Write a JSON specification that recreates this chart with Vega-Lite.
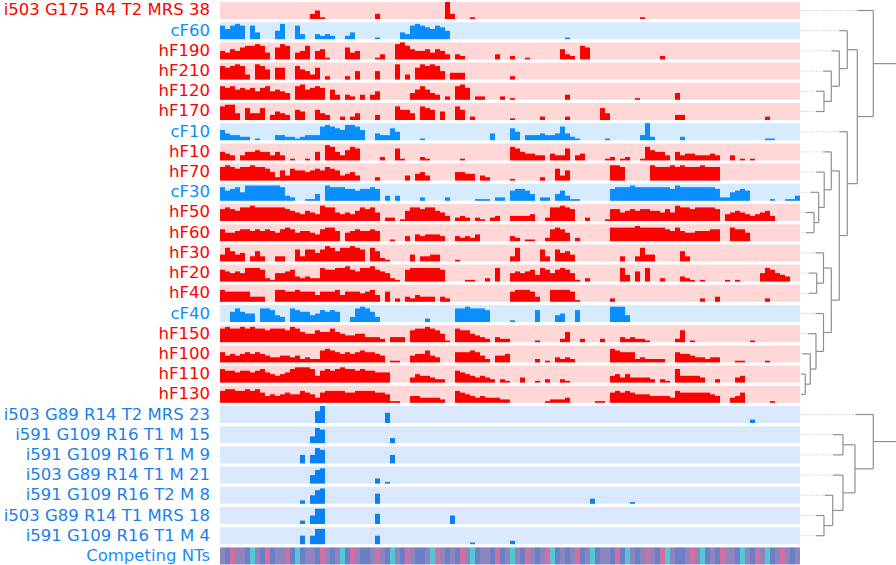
{
"$schema":"https://vega.github.io/schema/vega-lite/v6.json",
"padding":{"top":2,"left":0,"right":0,"bottom":0},
"config":{"view":{"stroke":null}},
"datasets":{
"tracks":[{"r":0,"t":"i503 G175 R4 T2 MRS 38","g":"h"},{"r":1,"t":"cF60","g":"c"},{"r":2,"t":"hF190","g":"h"},{"r":3,"t":"hF210","g":"h"},{"r":4,"t":"hF120","g":"h"},{"r":5,"t":"hF170","g":"h"},{"r":6,"t":"cF10","g":"c"},{"r":7,"t":"hF10","g":"h"},{"r":8,"t":"hF70","g":"h"},{"r":9,"t":"cF30","g":"c"},{"r":10,"t":"hF50","g":"h"},{"r":11,"t":"hF60","g":"h"},{"r":12,"t":"hF30","g":"h"},{"r":13,"t":"hF20","g":"h"},{"r":14,"t":"hF40","g":"h"},{"r":15,"t":"cF40","g":"c"},{"r":16,"t":"hF150","g":"h"},{"r":17,"t":"hF100","g":"h"},{"r":18,"t":"hF110","g":"h"},{"r":19,"t":"hF130","g":"h"},{"r":20,"t":"i503 G89 R14 T2 MRS 23","g":"i"},{"r":21,"t":"i591 G109 R16 T1 M 15","g":"i"},{"r":22,"t":"i591 G109 R16 T1 M 9","g":"i"},{"r":23,"t":"i503 G89 R14 T1 M 21","g":"i"},{"r":24,"t":"i591 G109 R16 T2 M 8","g":"i"},{"r":25,"t":"i503 G89 R14 T1 MRS 18","g":"i"},{"r":26,"t":"i591 G109 R16 T1 M 4","g":"i"},{"r":27,"t":"Competing NTs","g":"n"}],
"bars":[
{"r":0,"x":18,"v":3},{"r":0,"x":19,"v":5},{"r":0,"x":20,"v":1},{"r":0,"x":31,"v":3},{"r":0,"x":45,"v":10},{"r":0,"x":46,"v":3},{"r":0,"x":50,"v":1},{"r":0,"x":84,"v":1},
{"r":1,"x":0,"v":8},{"r":1,"x":1,"v":6},{"r":1,"x":2,"v":8},{"r":1,"x":3,"v":9},{"r":1,"x":4,"v":8},{"r":1,"x":6,"v":8},{"r":1,"x":7,"v":4},{"r":1,"x":11,"v":5},{"r":1,"x":12,"v":9},{"r":1,"x":15,"v":8},{"r":1,"x":16,"v":3},{"r":1,"x":19,"v":3},{"r":1,"x":20,"v":2},{"r":1,"x":21,"v":3},{"r":1,"x":22,"v":2},{"r":1,"x":25,"v":2},{"r":1,"x":26,"v":4},{"r":1,"x":31,"v":1},{"r":1,"x":36,"v":4},{"r":1,"x":37,"v":3},{"r":1,"x":38,"v":8},{"r":1,"x":39,"v":9},{"r":1,"x":40,"v":8},{"r":1,"x":41,"v":7},{"r":1,"x":42,"v":6},{"r":1,"x":43,"v":8},{"r":1,"x":44,"v":7},{"r":1,"x":45,"v":5},{"r":1,"x":69,"v":1},
{"r":2,"x":0,"v":5},{"r":2,"x":1,"v":4},{"r":2,"x":2,"v":6},{"r":2,"x":3,"v":5},{"r":2,"x":4,"v":7},{"r":2,"x":5,"v":8},{"r":2,"x":6,"v":8},{"r":2,"x":7,"v":9},{"r":2,"x":8,"v":8},{"r":2,"x":9,"v":4},{"r":2,"x":11,"v":7},{"r":2,"x":12,"v":9},{"r":2,"x":13,"v":8},{"r":2,"x":15,"v":4},{"r":2,"x":16,"v":5},{"r":2,"x":17,"v":8},{"r":2,"x":19,"v":5},{"r":2,"x":20,"v":6},{"r":2,"x":21,"v":1},{"r":2,"x":25,"v":7},{"r":2,"x":26,"v":4},{"r":2,"x":27,"v":5},{"r":2,"x":31,"v":1},{"r":2,"x":32,"v":3},{"r":2,"x":35,"v":9},{"r":2,"x":36,"v":10},{"r":2,"x":37,"v":8},{"r":2,"x":38,"v":6},{"r":2,"x":39,"v":5},{"r":2,"x":40,"v":5},{"r":2,"x":41,"v":6},{"r":2,"x":42,"v":4},{"r":2,"x":43,"v":6},{"r":2,"x":44,"v":5},{"r":2,"x":45,"v":3},{"r":2,"x":47,"v":3},{"r":2,"x":48,"v":2},{"r":2,"x":55,"v":3},{"r":2,"x":58,"v":2},{"r":2,"x":61,"v":1},{"r":2,"x":68,"v":6},{"r":2,"x":69,"v":3},{"r":2,"x":70,"v":2},{"r":2,"x":72,"v":8},{"r":2,"x":73,"v":7},{"r":2,"x":88,"v":2},
{"r":3,"x":0,"v":8},{"r":3,"x":1,"v":7},{"r":3,"x":2,"v":8},{"r":3,"x":3,"v":9},{"r":3,"x":4,"v":8},{"r":3,"x":5,"v":3},{"r":3,"x":7,"v":9},{"r":3,"x":8,"v":8},{"r":3,"x":9,"v":6},{"r":3,"x":11,"v":7},{"r":3,"x":12,"v":7},{"r":3,"x":15,"v":8},{"r":3,"x":16,"v":6},{"r":3,"x":17,"v":5},{"r":3,"x":18,"v":3},{"r":3,"x":19,"v":7},{"r":3,"x":21,"v":2},{"r":3,"x":25,"v":2},{"r":3,"x":27,"v":5},{"r":3,"x":31,"v":5},{"r":3,"x":35,"v":9},{"r":3,"x":37,"v":3},{"r":3,"x":39,"v":7},{"r":3,"x":40,"v":9},{"r":3,"x":41,"v":8},{"r":3,"x":42,"v":9},{"r":3,"x":43,"v":8},{"r":3,"x":44,"v":5},{"r":3,"x":46,"v":4},{"r":3,"x":47,"v":4},{"r":3,"x":48,"v":4},{"r":3,"x":58,"v":2},
{"r":4,"x":0,"v":8},{"r":4,"x":1,"v":7},{"r":4,"x":2,"v":8},{"r":4,"x":3,"v":6},{"r":4,"x":4,"v":7},{"r":4,"x":5,"v":6},{"r":4,"x":6,"v":7},{"r":4,"x":7,"v":5},{"r":4,"x":8,"v":7},{"r":4,"x":9,"v":8},{"r":4,"x":10,"v":5},{"r":4,"x":11,"v":6},{"r":4,"x":12,"v":5},{"r":4,"x":13,"v":4},{"r":4,"x":15,"v":8},{"r":4,"x":16,"v":9},{"r":4,"x":17,"v":6},{"r":4,"x":18,"v":7},{"r":4,"x":19,"v":8},{"r":4,"x":20,"v":7},{"r":4,"x":22,"v":6},{"r":4,"x":23,"v":3},{"r":4,"x":25,"v":3},{"r":4,"x":26,"v":2},{"r":4,"x":28,"v":3},{"r":4,"x":30,"v":3},{"r":4,"x":31,"v":5},{"r":4,"x":38,"v":4},{"r":4,"x":39,"v":6},{"r":4,"x":40,"v":8},{"r":4,"x":41,"v":6},{"r":4,"x":42,"v":4},{"r":4,"x":43,"v":3},{"r":4,"x":45,"v":2},{"r":4,"x":47,"v":8},{"r":4,"x":48,"v":9},{"r":4,"x":49,"v":7},{"r":4,"x":51,"v":2},{"r":4,"x":52,"v":2},{"r":4,"x":56,"v":2},{"r":4,"x":58,"v":1},{"r":4,"x":69,"v":3},{"r":4,"x":83,"v":1},{"r":4,"x":91,"v":4},
{"r":5,"x":0,"v":8},{"r":5,"x":1,"v":9},{"r":5,"x":2,"v":9},{"r":5,"x":3,"v":4},{"r":5,"x":5,"v":7},{"r":5,"x":6,"v":4},{"r":5,"x":7,"v":4},{"r":5,"x":8,"v":7},{"r":5,"x":10,"v":3},{"r":5,"x":11,"v":5},{"r":5,"x":12,"v":4},{"r":5,"x":13,"v":3},{"r":5,"x":15,"v":6},{"r":5,"x":16,"v":5},{"r":5,"x":19,"v":6},{"r":5,"x":20,"v":4},{"r":5,"x":21,"v":3},{"r":5,"x":24,"v":2},{"r":5,"x":26,"v":2},{"r":5,"x":27,"v":4},{"r":5,"x":31,"v":3},{"r":5,"x":35,"v":8},{"r":5,"x":36,"v":6},{"r":5,"x":37,"v":6},{"r":5,"x":38,"v":4},{"r":5,"x":40,"v":8},{"r":5,"x":41,"v":7},{"r":5,"x":42,"v":6},{"r":5,"x":44,"v":5},{"r":5,"x":47,"v":8},{"r":5,"x":48,"v":6},{"r":5,"x":50,"v":2},{"r":5,"x":58,"v":1},{"r":5,"x":64,"v":2},{"r":5,"x":69,"v":2},{"r":5,"x":76,"v":7},{"r":5,"x":77,"v":4},{"r":5,"x":91,"v":3},{"r":5,"x":92,"v":3},{"r":5,"x":109,"v":2},
{"r":6,"x":0,"v":6},{"r":6,"x":1,"v":4},{"r":6,"x":2,"v":3},{"r":6,"x":3,"v":3},{"r":6,"x":4,"v":2},{"r":6,"x":5,"v":2},{"r":6,"x":7,"v":1},{"r":6,"x":11,"v":3},{"r":6,"x":12,"v":3},{"r":6,"x":13,"v":2},{"r":6,"x":14,"v":2},{"r":6,"x":15,"v":1},{"r":6,"x":16,"v":2},{"r":6,"x":17,"v":3},{"r":6,"x":18,"v":3},{"r":6,"x":19,"v":3},{"r":6,"x":20,"v":8},{"r":6,"x":21,"v":9},{"r":6,"x":22,"v":8},{"r":6,"x":23,"v":7},{"r":6,"x":24,"v":6},{"r":6,"x":25,"v":9},{"r":6,"x":26,"v":9},{"r":6,"x":27,"v":8},{"r":6,"x":28,"v":6},{"r":6,"x":31,"v":4},{"r":6,"x":32,"v":3},{"r":6,"x":33,"v":3},{"r":6,"x":34,"v":7},{"r":6,"x":35,"v":5},{"r":6,"x":40,"v":1},{"r":6,"x":54,"v":4},{"r":6,"x":58,"v":7},{"r":6,"x":59,"v":5},{"r":6,"x":61,"v":3},{"r":6,"x":62,"v":3},{"r":6,"x":63,"v":3},{"r":6,"x":64,"v":4},{"r":6,"x":65,"v":3},{"r":6,"x":66,"v":3},{"r":6,"x":67,"v":4},{"r":6,"x":68,"v":8},{"r":6,"x":69,"v":4},{"r":6,"x":70,"v":2},{"r":6,"x":71,"v":1},{"r":6,"x":77,"v":1},{"r":6,"x":84,"v":3},{"r":6,"x":85,"v":10},{"r":6,"x":86,"v":2},{"r":6,"x":92,"v":2},{"r":6,"x":109,"v":1},{"r":6,"x":110,"v":1},
{"r":7,"x":0,"v":5},{"r":7,"x":1,"v":4},{"r":7,"x":2,"v":3},{"r":7,"x":4,"v":3},{"r":7,"x":5,"v":5},{"r":7,"x":6,"v":5},{"r":7,"x":7,"v":6},{"r":7,"x":8,"v":5},{"r":7,"x":9,"v":5},{"r":7,"x":10,"v":3},{"r":7,"x":11,"v":5},{"r":7,"x":12,"v":3},{"r":7,"x":14,"v":1},{"r":7,"x":17,"v":1},{"r":7,"x":19,"v":5},{"r":7,"x":21,"v":9},{"r":7,"x":22,"v":8},{"r":7,"x":23,"v":5},{"r":7,"x":24,"v":3},{"r":7,"x":25,"v":6},{"r":7,"x":26,"v":8},{"r":7,"x":27,"v":7},{"r":7,"x":32,"v":2},{"r":7,"x":35,"v":7},{"r":7,"x":36,"v":1},{"r":7,"x":40,"v":2},{"r":7,"x":41,"v":1},{"r":7,"x":48,"v":1},{"r":7,"x":58,"v":8},{"r":7,"x":59,"v":7},{"r":7,"x":60,"v":5},{"r":7,"x":61,"v":4},{"r":7,"x":62,"v":4},{"r":7,"x":63,"v":3},{"r":7,"x":64,"v":3},{"r":7,"x":66,"v":4},{"r":7,"x":67,"v":3},{"r":7,"x":68,"v":3},{"r":7,"x":69,"v":7},{"r":7,"x":71,"v":3},{"r":7,"x":72,"v":4},{"r":7,"x":77,"v":1},{"r":7,"x":78,"v":2},{"r":7,"x":80,"v":1},{"r":7,"x":81,"v":2},{"r":7,"x":84,"v":1},{"r":7,"x":85,"v":8},{"r":7,"x":86,"v":6},{"r":7,"x":87,"v":5},{"r":7,"x":88,"v":5},{"r":7,"x":89,"v":3},{"r":7,"x":91,"v":5},{"r":7,"x":92,"v":3},{"r":7,"x":93,"v":4},{"r":7,"x":94,"v":4},{"r":7,"x":95,"v":3},{"r":7,"x":96,"v":3},{"r":7,"x":97,"v":3},{"r":7,"x":98,"v":4},{"r":7,"x":99,"v":3},{"r":7,"x":102,"v":3},{"r":7,"x":104,"v":1},{"r":7,"x":106,"v":1},
{"r":8,"x":0,"v":8},{"r":8,"x":1,"v":9},{"r":8,"x":2,"v":8},{"r":8,"x":3,"v":7},{"r":8,"x":4,"v":8},{"r":8,"x":5,"v":8},{"r":8,"x":6,"v":9},{"r":8,"x":7,"v":8},{"r":8,"x":8,"v":8},{"r":8,"x":9,"v":7},{"r":8,"x":10,"v":5},{"r":8,"x":11,"v":2},{"r":8,"x":12,"v":6},{"r":8,"x":13,"v":3},{"r":8,"x":14,"v":7},{"r":8,"x":15,"v":6},{"r":8,"x":16,"v":6},{"r":8,"x":17,"v":5},{"r":8,"x":18,"v":6},{"r":8,"x":19,"v":7},{"r":8,"x":20,"v":6},{"r":8,"x":21,"v":8},{"r":8,"x":22,"v":7},{"r":8,"x":23,"v":6},{"r":8,"x":24,"v":3},{"r":8,"x":25,"v":4},{"r":8,"x":26,"v":5},{"r":8,"x":27,"v":3},{"r":8,"x":31,"v":2},{"r":8,"x":37,"v":3},{"r":8,"x":39,"v":4},{"r":8,"x":40,"v":5},{"r":8,"x":41,"v":3},{"r":8,"x":47,"v":5},{"r":8,"x":48,"v":5},{"r":8,"x":49,"v":4},{"r":8,"x":50,"v":4},{"r":8,"x":52,"v":3},{"r":8,"x":53,"v":2},{"r":8,"x":58,"v":1},{"r":8,"x":64,"v":2},{"r":8,"x":67,"v":7},{"r":8,"x":68,"v":3},{"r":8,"x":69,"v":6},{"r":8,"x":78,"v":9},{"r":8,"x":79,"v":9},{"r":8,"x":80,"v":8},{"r":8,"x":86,"v":9},{"r":8,"x":87,"v":8},{"r":8,"x":88,"v":8},{"r":8,"x":89,"v":8},{"r":8,"x":90,"v":9},{"r":8,"x":91,"v":8},{"r":8,"x":92,"v":9},{"r":8,"x":93,"v":8},{"r":8,"x":94,"v":8},{"r":8,"x":95,"v":8},{"r":8,"x":96,"v":9},{"r":8,"x":97,"v":8},{"r":8,"x":98,"v":8},{"r":8,"x":99,"v":8},
{"r":9,"x":0,"v":8},{"r":9,"x":1,"v":6},{"r":9,"x":2,"v":7},{"r":9,"x":3,"v":8},{"r":9,"x":4,"v":5},{"r":9,"x":5,"v":9},{"r":9,"x":6,"v":9},{"r":9,"x":7,"v":9},{"r":9,"x":8,"v":9},{"r":9,"x":9,"v":9},{"r":9,"x":10,"v":9},{"r":9,"x":11,"v":9},{"r":9,"x":12,"v":8},{"r":9,"x":13,"v":3},{"r":9,"x":14,"v":2},{"r":9,"x":17,"v":1},{"r":9,"x":18,"v":1},{"r":9,"x":19,"v":4},{"r":9,"x":21,"v":9},{"r":9,"x":22,"v":8},{"r":9,"x":23,"v":8},{"r":9,"x":24,"v":8},{"r":9,"x":25,"v":7},{"r":9,"x":26,"v":7},{"r":9,"x":27,"v":6},{"r":9,"x":28,"v":7},{"r":9,"x":29,"v":7},{"r":9,"x":30,"v":8},{"r":9,"x":31,"v":7},{"r":9,"x":33,"v":3},{"r":9,"x":35,"v":3},{"r":9,"x":40,"v":2},{"r":9,"x":45,"v":2},{"r":9,"x":51,"v":1},{"r":9,"x":52,"v":1},{"r":9,"x":53,"v":1},{"r":9,"x":55,"v":2},{"r":9,"x":56,"v":2},{"r":9,"x":58,"v":6},{"r":9,"x":59,"v":7},{"r":9,"x":60,"v":7},{"r":9,"x":61,"v":6},{"r":9,"x":62,"v":4},{"r":9,"x":64,"v":2},{"r":9,"x":65,"v":2},{"r":9,"x":67,"v":4},{"r":9,"x":68,"v":6},{"r":9,"x":69,"v":3},{"r":9,"x":70,"v":1},{"r":9,"x":71,"v":1},{"r":9,"x":78,"v":7},{"r":9,"x":79,"v":8},{"r":9,"x":80,"v":8},{"r":9,"x":81,"v":8},{"r":9,"x":82,"v":9},{"r":9,"x":83,"v":8},{"r":9,"x":84,"v":8},{"r":9,"x":85,"v":8},{"r":9,"x":86,"v":8},{"r":9,"x":87,"v":8},{"r":9,"x":88,"v":8},{"r":9,"x":89,"v":8},{"r":9,"x":90,"v":7},{"r":9,"x":91,"v":9},{"r":9,"x":92,"v":8},{"r":9,"x":93,"v":8},{"r":9,"x":94,"v":8},{"r":9,"x":95,"v":8},{"r":9,"x":96,"v":8},{"r":9,"x":97,"v":8},{"r":9,"x":98,"v":8},{"r":9,"x":99,"v":7},{"r":9,"x":100,"v":2},{"r":9,"x":101,"v":2},{"r":9,"x":102,"v":5},{"r":9,"x":103,"v":6},{"r":9,"x":104,"v":7},{"r":9,"x":105,"v":6},{"r":9,"x":110,"v":1},{"r":9,"x":113,"v":1},{"r":9,"x":114,"v":1},{"r":9,"x":115,"v":3},
{"r":10,"x":0,"v":7},{"r":10,"x":1,"v":8},{"r":10,"x":2,"v":7},{"r":10,"x":3,"v":6},{"r":10,"x":4,"v":8},{"r":10,"x":5,"v":8},{"r":10,"x":6,"v":9},{"r":10,"x":7,"v":8},{"r":10,"x":8,"v":8},{"r":10,"x":9,"v":8},{"r":10,"x":10,"v":8},{"r":10,"x":11,"v":8},{"r":10,"x":12,"v":8},{"r":10,"x":13,"v":7},{"r":10,"x":14,"v":6},{"r":10,"x":15,"v":5},{"r":10,"x":16,"v":4},{"r":10,"x":17,"v":6},{"r":10,"x":18,"v":5},{"r":10,"x":19,"v":4},{"r":10,"x":20,"v":9},{"r":10,"x":21,"v":8},{"r":10,"x":22,"v":8},{"r":10,"x":23,"v":5},{"r":10,"x":24,"v":4},{"r":10,"x":25,"v":5},{"r":10,"x":26,"v":4},{"r":10,"x":27,"v":6},{"r":10,"x":28,"v":8},{"r":10,"x":29,"v":7},{"r":10,"x":30,"v":8},{"r":10,"x":31,"v":5},{"r":10,"x":33,"v":2},{"r":10,"x":34,"v":2},{"r":10,"x":36,"v":1},{"r":10,"x":37,"v":6},{"r":10,"x":38,"v":8},{"r":10,"x":39,"v":8},{"r":10,"x":40,"v":7},{"r":10,"x":41,"v":8},{"r":10,"x":42,"v":8},{"r":10,"x":43,"v":6},{"r":10,"x":44,"v":5},{"r":10,"x":45,"v":3},{"r":10,"x":47,"v":2},{"r":10,"x":48,"v":3},{"r":10,"x":49,"v":2},{"r":10,"x":51,"v":2},{"r":10,"x":52,"v":1},{"r":10,"x":54,"v":2},{"r":10,"x":55,"v":3},{"r":10,"x":58,"v":3},{"r":10,"x":59,"v":3},{"r":10,"x":60,"v":3},{"r":10,"x":61,"v":3},{"r":10,"x":62,"v":4},{"r":10,"x":65,"v":2},{"r":10,"x":66,"v":8},{"r":10,"x":67,"v":8},{"r":10,"x":68,"v":9},{"r":10,"x":69,"v":8},{"r":10,"x":70,"v":7},{"r":10,"x":73,"v":2},{"r":10,"x":77,"v":1},{"r":10,"x":78,"v":7},{"r":10,"x":79,"v":7},{"r":10,"x":80,"v":5},{"r":10,"x":81,"v":6},{"r":10,"x":82,"v":7},{"r":10,"x":83,"v":6},{"r":10,"x":84,"v":7},{"r":10,"x":85,"v":7},{"r":10,"x":86,"v":6},{"r":10,"x":87,"v":6},{"r":10,"x":88,"v":5},{"r":10,"x":89,"v":7},{"r":10,"x":90,"v":5},{"r":10,"x":91,"v":9},{"r":10,"x":92,"v":8},{"r":10,"x":93,"v":8},{"r":10,"x":94,"v":7},{"r":10,"x":95,"v":8},{"r":10,"x":96,"v":8},{"r":10,"x":97,"v":8},{"r":10,"x":98,"v":8},{"r":10,"x":99,"v":7},{"r":10,"x":101,"v":4},{"r":10,"x":102,"v":5},{"r":10,"x":103,"v":6},{"r":10,"x":104,"v":5},{"r":10,"x":105,"v":4},{"r":10,"x":106,"v":3},{"r":10,"x":107,"v":4},{"r":10,"x":108,"v":5},{"r":10,"x":109,"v":6},{"r":10,"x":110,"v":3},
{"r":11,"x":0,"v":7},{"r":11,"x":1,"v":5},{"r":11,"x":2,"v":5},{"r":11,"x":3,"v":6},{"r":11,"x":4,"v":7},{"r":11,"x":5,"v":7},{"r":11,"x":6,"v":6},{"r":11,"x":7,"v":7},{"r":11,"x":8,"v":6},{"r":11,"x":9,"v":7},{"r":11,"x":10,"v":6},{"r":11,"x":11,"v":5},{"r":11,"x":12,"v":7},{"r":11,"x":13,"v":8},{"r":11,"x":14,"v":7},{"r":11,"x":15,"v":5},{"r":11,"x":16,"v":6},{"r":11,"x":17,"v":6},{"r":11,"x":18,"v":5},{"r":11,"x":19,"v":4},{"r":11,"x":20,"v":7},{"r":11,"x":21,"v":8},{"r":11,"x":22,"v":8},{"r":11,"x":23,"v":6},{"r":11,"x":25,"v":5},{"r":11,"x":26,"v":6},{"r":11,"x":27,"v":7},{"r":11,"x":28,"v":6},{"r":11,"x":29,"v":6},{"r":11,"x":30,"v":7},{"r":11,"x":31,"v":6},{"r":11,"x":34,"v":1},{"r":11,"x":37,"v":3},{"r":11,"x":39,"v":4},{"r":11,"x":40,"v":3},{"r":11,"x":41,"v":4},{"r":11,"x":42,"v":4},{"r":11,"x":43,"v":4},{"r":11,"x":44,"v":3},{"r":11,"x":47,"v":3},{"r":11,"x":48,"v":2},{"r":11,"x":49,"v":3},{"r":11,"x":50,"v":2},{"r":11,"x":51,"v":4},{"r":11,"x":58,"v":3},{"r":11,"x":59,"v":2},{"r":11,"x":61,"v":1},{"r":11,"x":62,"v":1},{"r":11,"x":65,"v":2},{"r":11,"x":66,"v":7},{"r":11,"x":67,"v":8},{"r":11,"x":68,"v":7},{"r":11,"x":69,"v":5},{"r":11,"x":71,"v":2},{"r":11,"x":78,"v":8},{"r":11,"x":79,"v":8},{"r":11,"x":80,"v":8},{"r":11,"x":81,"v":8},{"r":11,"x":82,"v":8},{"r":11,"x":83,"v":9},{"r":11,"x":84,"v":8},{"r":11,"x":85,"v":8},{"r":11,"x":86,"v":8},{"r":11,"x":87,"v":8},{"r":11,"x":88,"v":8},{"r":11,"x":89,"v":7},{"r":11,"x":90,"v":6},{"r":11,"x":91,"v":8},{"r":11,"x":92,"v":6},{"r":11,"x":93,"v":5},{"r":11,"x":94,"v":5},{"r":11,"x":95,"v":6},{"r":11,"x":96,"v":6},{"r":11,"x":97,"v":6},{"r":11,"x":98,"v":7},{"r":11,"x":99,"v":7},{"r":11,"x":102,"v":8},{"r":11,"x":103,"v":7},{"r":11,"x":104,"v":7},{"r":11,"x":105,"v":5},
{"r":12,"x":0,"v":4},{"r":12,"x":1,"v":8},{"r":12,"x":2,"v":6},{"r":12,"x":3,"v":4},{"r":12,"x":4,"v":5},{"r":12,"x":6,"v":3},{"r":12,"x":7,"v":6},{"r":12,"x":8,"v":3},{"r":12,"x":11,"v":3},{"r":12,"x":12,"v":3},{"r":12,"x":15,"v":7},{"r":12,"x":16,"v":3},{"r":12,"x":17,"v":7},{"r":12,"x":18,"v":7},{"r":12,"x":19,"v":5},{"r":12,"x":20,"v":7},{"r":12,"x":21,"v":9},{"r":12,"x":22,"v":8},{"r":12,"x":23,"v":6},{"r":12,"x":24,"v":8},{"r":12,"x":25,"v":8},{"r":12,"x":26,"v":9},{"r":12,"x":27,"v":8},{"r":12,"x":28,"v":7},{"r":12,"x":30,"v":8},{"r":12,"x":31,"v":6},{"r":12,"x":32,"v":2},{"r":12,"x":33,"v":1},{"r":12,"x":38,"v":4},{"r":12,"x":40,"v":3},{"r":12,"x":41,"v":3},{"r":12,"x":42,"v":4},{"r":12,"x":43,"v":4},{"r":12,"x":47,"v":1},{"r":12,"x":58,"v":3},{"r":12,"x":59,"v":8},{"r":12,"x":64,"v":7},{"r":12,"x":65,"v":3},{"r":12,"x":67,"v":7},{"r":12,"x":68,"v":5},{"r":12,"x":69,"v":6},{"r":12,"x":70,"v":4},{"r":12,"x":80,"v":3},{"r":12,"x":83,"v":3},{"r":12,"x":84,"v":8},{"r":12,"x":85,"v":4},{"r":12,"x":86,"v":4},{"r":12,"x":92,"v":6},{"r":12,"x":93,"v":3},
{"r":13,"x":0,"v":7},{"r":13,"x":1,"v":6},{"r":13,"x":2,"v":5},{"r":13,"x":3,"v":6},{"r":13,"x":4,"v":5},{"r":13,"x":5,"v":8},{"r":13,"x":6,"v":8},{"r":13,"x":7,"v":8},{"r":13,"x":8,"v":7},{"r":13,"x":9,"v":2},{"r":13,"x":10,"v":1},{"r":13,"x":11,"v":5},{"r":13,"x":12,"v":5},{"r":13,"x":13,"v":6},{"r":13,"x":14,"v":7},{"r":13,"x":15,"v":3},{"r":13,"x":16,"v":2},{"r":13,"x":17,"v":3},{"r":13,"x":18,"v":2},{"r":13,"x":19,"v":2},{"r":13,"x":20,"v":8},{"r":13,"x":21,"v":7},{"r":13,"x":22,"v":7},{"r":13,"x":23,"v":8},{"r":13,"x":24,"v":8},{"r":13,"x":25,"v":9},{"r":13,"x":26,"v":7},{"r":13,"x":27,"v":6},{"r":13,"x":28,"v":8},{"r":13,"x":29,"v":8},{"r":13,"x":30,"v":9},{"r":13,"x":31,"v":7},{"r":13,"x":32,"v":6},{"r":13,"x":33,"v":5},{"r":13,"x":34,"v":2},{"r":13,"x":35,"v":1},{"r":13,"x":37,"v":7},{"r":13,"x":38,"v":8},{"r":13,"x":39,"v":8},{"r":13,"x":40,"v":8},{"r":13,"x":41,"v":8},{"r":13,"x":42,"v":8},{"r":13,"x":43,"v":8},{"r":13,"x":44,"v":7},{"r":13,"x":49,"v":1},{"r":13,"x":50,"v":1},{"r":13,"x":53,"v":2},{"r":13,"x":55,"v":8},{"r":13,"x":58,"v":5},{"r":13,"x":59,"v":6},{"r":13,"x":60,"v":5},{"r":13,"x":61,"v":6},{"r":13,"x":62,"v":7},{"r":13,"x":63,"v":4},{"r":13,"x":64,"v":8},{"r":13,"x":65,"v":7},{"r":13,"x":66,"v":5},{"r":13,"x":67,"v":7},{"r":13,"x":68,"v":8},{"r":13,"x":69,"v":7},{"r":13,"x":70,"v":5},{"r":13,"x":71,"v":1},{"r":13,"x":73,"v":2},{"r":13,"x":80,"v":8},{"r":13,"x":81,"v":4},{"r":13,"x":83,"v":6},{"r":13,"x":85,"v":8},{"r":13,"x":88,"v":2},{"r":13,"x":92,"v":3},{"r":13,"x":93,"v":2},{"r":13,"x":94,"v":1},{"r":13,"x":96,"v":1},{"r":13,"x":101,"v":1},{"r":13,"x":103,"v":1},{"r":13,"x":108,"v":5},{"r":13,"x":109,"v":8},{"r":13,"x":110,"v":7},{"r":13,"x":111,"v":5},{"r":13,"x":112,"v":4},{"r":13,"x":113,"v":3},
{"r":14,"x":0,"v":7},{"r":14,"x":1,"v":6},{"r":14,"x":2,"v":6},{"r":14,"x":3,"v":6},{"r":14,"x":4,"v":6},{"r":14,"x":5,"v":6},{"r":14,"x":6,"v":3},{"r":14,"x":7,"v":3},{"r":14,"x":8,"v":3},{"r":14,"x":11,"v":7},{"r":14,"x":12,"v":7},{"r":14,"x":13,"v":6},{"r":14,"x":14,"v":6},{"r":14,"x":15,"v":7},{"r":14,"x":16,"v":6},{"r":14,"x":17,"v":6},{"r":14,"x":18,"v":6},{"r":14,"x":19,"v":4},{"r":14,"x":20,"v":6},{"r":14,"x":21,"v":6},{"r":14,"x":22,"v":6},{"r":14,"x":23,"v":7},{"r":14,"x":24,"v":4},{"r":14,"x":25,"v":6},{"r":14,"x":26,"v":6},{"r":14,"x":27,"v":6},{"r":14,"x":28,"v":5},{"r":14,"x":29,"v":6},{"r":14,"x":30,"v":7},{"r":14,"x":31,"v":4},{"r":14,"x":33,"v":6},{"r":14,"x":35,"v":2},{"r":14,"x":37,"v":3},{"r":14,"x":38,"v":2},{"r":14,"x":39,"v":4},{"r":14,"x":40,"v":3},{"r":14,"x":41,"v":3},{"r":14,"x":42,"v":3},{"r":14,"x":44,"v":3},{"r":14,"x":45,"v":2},{"r":14,"x":58,"v":6},{"r":14,"x":59,"v":7},{"r":14,"x":60,"v":7},{"r":14,"x":61,"v":7},{"r":14,"x":62,"v":6},{"r":14,"x":63,"v":3},{"r":14,"x":66,"v":7},{"r":14,"x":67,"v":7},{"r":14,"x":68,"v":7},{"r":14,"x":69,"v":7},{"r":14,"x":70,"v":6},{"r":14,"x":71,"v":1},{"r":14,"x":78,"v":2},{"r":14,"x":96,"v":2},{"r":14,"x":99,"v":3},{"r":14,"x":109,"v":2},
{"r":15,"x":2,"v":6},{"r":15,"x":3,"v":8},{"r":15,"x":4,"v":6},{"r":15,"x":5,"v":5},{"r":15,"x":6,"v":5},{"r":15,"x":8,"v":8},{"r":15,"x":9,"v":8},{"r":15,"x":10,"v":7},{"r":15,"x":11,"v":4},{"r":15,"x":12,"v":3},{"r":15,"x":14,"v":8},{"r":15,"x":15,"v":7},{"r":15,"x":16,"v":6},{"r":15,"x":17,"v":6},{"r":15,"x":18,"v":4},{"r":15,"x":19,"v":5},{"r":15,"x":20,"v":7},{"r":15,"x":21,"v":6},{"r":15,"x":22,"v":7},{"r":15,"x":23,"v":6},{"r":15,"x":26,"v":3},{"r":15,"x":27,"v":8},{"r":15,"x":28,"v":9},{"r":15,"x":29,"v":8},{"r":15,"x":30,"v":6},{"r":15,"x":31,"v":3},{"r":15,"x":41,"v":2},{"r":15,"x":47,"v":8},{"r":15,"x":48,"v":8},{"r":15,"x":49,"v":9},{"r":15,"x":50,"v":8},{"r":15,"x":51,"v":8},{"r":15,"x":52,"v":8},{"r":15,"x":53,"v":7},{"r":15,"x":58,"v":1},{"r":15,"x":63,"v":7},{"r":15,"x":67,"v":4},{"r":15,"x":68,"v":5},{"r":15,"x":71,"v":7},{"r":15,"x":78,"v":9},{"r":15,"x":79,"v":9},{"r":15,"x":80,"v":9},{"r":15,"x":81,"v":4},
{"r":16,"x":0,"v":8},{"r":16,"x":1,"v":9},{"r":16,"x":2,"v":8},{"r":16,"x":3,"v":8},{"r":16,"x":4,"v":9},{"r":16,"x":5,"v":8},{"r":16,"x":6,"v":9},{"r":16,"x":7,"v":8},{"r":16,"x":8,"v":8},{"r":16,"x":9,"v":7},{"r":16,"x":10,"v":8},{"r":16,"x":11,"v":8},{"r":16,"x":12,"v":8},{"r":16,"x":13,"v":7},{"r":16,"x":14,"v":9},{"r":16,"x":15,"v":8},{"r":16,"x":16,"v":6},{"r":16,"x":17,"v":5},{"r":16,"x":18,"v":5},{"r":16,"x":19,"v":7},{"r":16,"x":20,"v":6},{"r":16,"x":21,"v":6},{"r":16,"x":22,"v":8},{"r":16,"x":23,"v":6},{"r":16,"x":24,"v":5},{"r":16,"x":25,"v":4},{"r":16,"x":26,"v":4},{"r":16,"x":27,"v":5},{"r":16,"x":28,"v":5},{"r":16,"x":29,"v":3},{"r":16,"x":30,"v":3},{"r":16,"x":31,"v":3},{"r":16,"x":32,"v":2},{"r":16,"x":34,"v":3},{"r":16,"x":35,"v":3},{"r":16,"x":36,"v":3},{"r":16,"x":38,"v":7},{"r":16,"x":39,"v":8},{"r":16,"x":40,"v":8},{"r":16,"x":41,"v":9},{"r":16,"x":42,"v":8},{"r":16,"x":43,"v":7},{"r":16,"x":44,"v":5},{"r":16,"x":45,"v":1},{"r":16,"x":47,"v":8},{"r":16,"x":48,"v":7},{"r":16,"x":49,"v":7},{"r":16,"x":50,"v":5},{"r":16,"x":51,"v":4},{"r":16,"x":52,"v":3},{"r":16,"x":53,"v":2},{"r":16,"x":55,"v":3},{"r":16,"x":56,"v":2},{"r":16,"x":57,"v":2},{"r":16,"x":63,"v":1},{"r":16,"x":68,"v":2},{"r":16,"x":69,"v":6},{"r":16,"x":72,"v":2},{"r":16,"x":76,"v":2},{"r":16,"x":80,"v":3},{"r":16,"x":81,"v":2},{"r":16,"x":82,"v":3},{"r":16,"x":83,"v":2},{"r":16,"x":84,"v":2},{"r":16,"x":85,"v":1},{"r":16,"x":91,"v":2},{"r":16,"x":92,"v":7},{"r":16,"x":94,"v":1},{"r":16,"x":106,"v":1},
{"r":17,"x":0,"v":6},{"r":17,"x":1,"v":4},{"r":17,"x":2,"v":5},{"r":17,"x":3,"v":4},{"r":17,"x":4,"v":5},{"r":17,"x":5,"v":6},{"r":17,"x":6,"v":5},{"r":17,"x":7,"v":6},{"r":17,"x":8,"v":5},{"r":17,"x":9,"v":4},{"r":17,"x":10,"v":3},{"r":17,"x":11,"v":3},{"r":17,"x":12,"v":4},{"r":17,"x":13,"v":4},{"r":17,"x":14,"v":3},{"r":17,"x":15,"v":4},{"r":17,"x":16,"v":2},{"r":17,"x":17,"v":3},{"r":17,"x":18,"v":2},{"r":17,"x":19,"v":2},{"r":17,"x":20,"v":7},{"r":17,"x":21,"v":8},{"r":17,"x":22,"v":7},{"r":17,"x":23,"v":6},{"r":17,"x":24,"v":5},{"r":17,"x":25,"v":6},{"r":17,"x":26,"v":5},{"r":17,"x":27,"v":6},{"r":17,"x":28,"v":7},{"r":17,"x":29,"v":6},{"r":17,"x":30,"v":6},{"r":17,"x":31,"v":5},{"r":17,"x":32,"v":4},{"r":17,"x":34,"v":1},{"r":17,"x":35,"v":1},{"r":17,"x":38,"v":4},{"r":17,"x":39,"v":5},{"r":17,"x":40,"v":5},{"r":17,"x":41,"v":7},{"r":17,"x":42,"v":4},{"r":17,"x":43,"v":3},{"r":17,"x":47,"v":6},{"r":17,"x":48,"v":6},{"r":17,"x":49,"v":6},{"r":17,"x":50,"v":7},{"r":17,"x":51,"v":6},{"r":17,"x":52,"v":4},{"r":17,"x":53,"v":2},{"r":17,"x":55,"v":4},{"r":17,"x":56,"v":4},{"r":17,"x":57,"v":5},{"r":17,"x":63,"v":2},{"r":17,"x":65,"v":1},{"r":17,"x":67,"v":3},{"r":17,"x":68,"v":2},{"r":17,"x":69,"v":3},{"r":17,"x":70,"v":2},{"r":17,"x":78,"v":8},{"r":17,"x":79,"v":7},{"r":17,"x":80,"v":6},{"r":17,"x":81,"v":6},{"r":17,"x":82,"v":6},{"r":17,"x":83,"v":2},{"r":17,"x":84,"v":3},{"r":17,"x":85,"v":2},{"r":17,"x":86,"v":2},{"r":17,"x":87,"v":2},{"r":17,"x":88,"v":2},{"r":17,"x":91,"v":6},{"r":17,"x":92,"v":5},{"r":17,"x":93,"v":5},{"r":17,"x":94,"v":4},{"r":17,"x":95,"v":3},{"r":17,"x":96,"v":3},{"r":17,"x":97,"v":2},{"r":17,"x":98,"v":3},{"r":17,"x":99,"v":3},{"r":17,"x":103,"v":1},{"r":17,"x":104,"v":1},{"r":17,"x":109,"v":1},
{"r":18,"x":0,"v":8},{"r":18,"x":1,"v":7},{"r":18,"x":2,"v":7},{"r":18,"x":3,"v":6},{"r":18,"x":4,"v":7},{"r":18,"x":5,"v":7},{"r":18,"x":6,"v":6},{"r":18,"x":7,"v":7},{"r":18,"x":8,"v":8},{"r":18,"x":9,"v":6},{"r":18,"x":10,"v":5},{"r":18,"x":11,"v":4},{"r":18,"x":12,"v":5},{"r":18,"x":13,"v":6},{"r":18,"x":14,"v":8},{"r":18,"x":15,"v":9},{"r":18,"x":16,"v":9},{"r":18,"x":17,"v":9},{"r":18,"x":18,"v":8},{"r":18,"x":19,"v":4},{"r":18,"x":20,"v":7},{"r":18,"x":21,"v":8},{"r":18,"x":22,"v":7},{"r":18,"x":23,"v":8},{"r":18,"x":24,"v":9},{"r":18,"x":25,"v":8},{"r":18,"x":26,"v":8},{"r":18,"x":27,"v":7},{"r":18,"x":28,"v":8},{"r":18,"x":29,"v":7},{"r":18,"x":30,"v":7},{"r":18,"x":31,"v":6},{"r":18,"x":32,"v":6},{"r":18,"x":33,"v":6},{"r":18,"x":38,"v":3},{"r":18,"x":39,"v":5},{"r":18,"x":40,"v":4},{"r":18,"x":41,"v":4},{"r":18,"x":42,"v":3},{"r":18,"x":43,"v":2},{"r":18,"x":44,"v":2},{"r":18,"x":47,"v":7},{"r":18,"x":48,"v":6},{"r":18,"x":49,"v":5},{"r":18,"x":50,"v":4},{"r":18,"x":51,"v":3},{"r":18,"x":52,"v":4},{"r":18,"x":53,"v":3},{"r":18,"x":54,"v":2},{"r":18,"x":56,"v":2},{"r":18,"x":57,"v":1},{"r":18,"x":60,"v":3},{"r":18,"x":63,"v":1},{"r":18,"x":65,"v":2},{"r":18,"x":68,"v":2},{"r":18,"x":69,"v":1},{"r":18,"x":78,"v":4},{"r":18,"x":79,"v":5},{"r":18,"x":80,"v":3},{"r":18,"x":81,"v":5},{"r":18,"x":82,"v":3},{"r":18,"x":83,"v":3},{"r":18,"x":84,"v":3},{"r":18,"x":85,"v":3},{"r":18,"x":86,"v":2},{"r":18,"x":88,"v":2},{"r":18,"x":89,"v":1},{"r":18,"x":91,"v":8},{"r":18,"x":92,"v":4},{"r":18,"x":93,"v":4},{"r":18,"x":94,"v":4},{"r":18,"x":95,"v":4},{"r":18,"x":96,"v":3},{"r":18,"x":99,"v":2},{"r":18,"x":103,"v":3},{"r":18,"x":104,"v":4},
{"r":19,"x":0,"v":7},{"r":19,"x":1,"v":8},{"r":19,"x":2,"v":8},{"r":19,"x":3,"v":7},{"r":19,"x":4,"v":7},{"r":19,"x":5,"v":8},{"r":19,"x":6,"v":7},{"r":19,"x":7,"v":8},{"r":19,"x":8,"v":6},{"r":19,"x":9,"v":4},{"r":19,"x":10,"v":5},{"r":19,"x":11,"v":4},{"r":19,"x":12,"v":5},{"r":19,"x":13,"v":6},{"r":19,"x":14,"v":5},{"r":19,"x":15,"v":5},{"r":19,"x":16,"v":7},{"r":19,"x":17,"v":6},{"r":19,"x":18,"v":5},{"r":19,"x":19,"v":3},{"r":19,"x":20,"v":6},{"r":19,"x":21,"v":7},{"r":19,"x":22,"v":7},{"r":19,"x":23,"v":7},{"r":19,"x":24,"v":7},{"r":19,"x":25,"v":6},{"r":19,"x":26,"v":6},{"r":19,"x":27,"v":7},{"r":19,"x":28,"v":7},{"r":19,"x":29,"v":7},{"r":19,"x":30,"v":7},{"r":19,"x":31,"v":6},{"r":19,"x":32,"v":6},{"r":19,"x":33,"v":5},{"r":19,"x":34,"v":1},{"r":19,"x":35,"v":1},{"r":19,"x":38,"v":4},{"r":19,"x":39,"v":4},{"r":19,"x":40,"v":3},{"r":19,"x":41,"v":3},{"r":19,"x":42,"v":3},{"r":19,"x":43,"v":3},{"r":19,"x":44,"v":2},{"r":19,"x":47,"v":7},{"r":19,"x":48,"v":6},{"r":19,"x":49,"v":5},{"r":19,"x":50,"v":4},{"r":19,"x":51,"v":3},{"r":19,"x":52,"v":4},{"r":19,"x":53,"v":3},{"r":19,"x":54,"v":3},{"r":19,"x":55,"v":3},{"r":19,"x":56,"v":2},{"r":19,"x":57,"v":2},{"r":19,"x":65,"v":1},{"r":19,"x":66,"v":2},{"r":19,"x":67,"v":2},{"r":19,"x":68,"v":2},{"r":19,"x":69,"v":3},{"r":19,"x":75,"v":1},{"r":19,"x":76,"v":1},{"r":19,"x":78,"v":6},{"r":19,"x":79,"v":7},{"r":19,"x":80,"v":6},{"r":19,"x":81,"v":7},{"r":19,"x":82,"v":6},{"r":19,"x":83,"v":5},{"r":19,"x":84,"v":5},{"r":19,"x":85,"v":5},{"r":19,"x":86,"v":4},{"r":19,"x":87,"v":4},{"r":19,"x":88,"v":4},{"r":19,"x":89,"v":4},{"r":19,"x":90,"v":3},{"r":19,"x":91,"v":7},{"r":19,"x":92,"v":6},{"r":19,"x":93,"v":6},{"r":19,"x":94,"v":6},{"r":19,"x":95,"v":6},{"r":19,"x":96,"v":6},{"r":19,"x":97,"v":6},{"r":19,"x":98,"v":5},{"r":19,"x":99,"v":4},{"r":19,"x":102,"v":3},{"r":19,"x":103,"v":4},{"r":19,"x":104,"v":6},{"r":19,"x":110,"v":1},
{"r":20,"x":19,"v":7},{"r":20,"x":20,"v":10},{"r":20,"x":33,"v":6},{"r":20,"x":106,"v":2},
{"r":21,"x":18,"v":4},{"r":21,"x":19,"v":9},{"r":21,"x":20,"v":8},{"r":21,"x":34,"v":3},
{"r":22,"x":16,"v":5},{"r":22,"x":18,"v":5},{"r":22,"x":19,"v":9},{"r":22,"x":20,"v":8},{"r":22,"x":34,"v":5},
{"r":23,"x":18,"v":5},{"r":23,"x":19,"v":8},{"r":23,"x":20,"v":9},{"r":23,"x":31,"v":3},{"r":23,"x":33,"v":1},
{"r":24,"x":16,"v":2},{"r":24,"x":18,"v":5},{"r":24,"x":19,"v":8},{"r":24,"x":20,"v":9},{"r":24,"x":31,"v":6},{"r":24,"x":74,"v":3},{"r":24,"x":82,"v":1},
{"r":25,"x":16,"v":2},{"r":25,"x":18,"v":5},{"r":25,"x":19,"v":9},{"r":25,"x":20,"v":9},{"r":25,"x":31,"v":6},{"r":25,"x":46,"v":5},
{"r":26,"x":16,"v":5},{"r":26,"x":18,"v":5},{"r":26,"x":19,"v":9},{"r":26,"x":20,"v":9},{"r":26,"x":31,"v":5},{"r":26,"x":50,"v":1},{"r":26,"x":58,"v":2},
{"r":27,"x":0,"k":"G"},{"r":27,"x":1,"k":"T"},{"r":27,"x":2,"k":"A"},{"r":27,"x":3,"k":"G"},{"r":27,"x":4,"k":"G"},{"r":27,"x":5,"k":"T"},{"r":27,"x":6,"k":"C"},{"r":27,"x":7,"k":"G"},{"r":27,"x":8,"k":"T"},{"r":27,"x":9,"k":"A"},
{"r":27,"x":10,"k":"T"},{"r":27,"x":11,"k":"G"},{"r":27,"x":12,"k":"G"},{"r":27,"x":13,"k":"A"},{"r":27,"x":14,"k":"T"},{"r":27,"x":15,"k":"C"},{"r":27,"x":16,"k":"T"},{"r":27,"x":17,"k":"G"},{"r":27,"x":18,"k":"G"},{"r":27,"x":19,"k":"T"},
{"r":27,"x":20,"k":"A"},{"r":27,"x":21,"k":"G"},{"r":27,"x":22,"k":"T"},{"r":27,"x":23,"k":"G"},{"r":27,"x":24,"k":"C"},{"r":27,"x":25,"k":"T"},{"r":27,"x":26,"k":"A"},{"r":27,"x":27,"k":"G"},{"r":27,"x":28,"k":"T"},{"r":27,"x":29,"k":"T"},
{"r":27,"x":30,"k":"G"},{"r":27,"x":31,"k":"A"},{"r":27,"x":32,"k":"G"},{"r":27,"x":33,"k":"T"},{"r":27,"x":34,"k":"C"},{"r":27,"x":35,"k":"G"},{"r":27,"x":36,"k":"T"},{"r":27,"x":37,"k":"A"},{"r":27,"x":38,"k":"G"},{"r":27,"x":39,"k":"T"},
{"r":27,"x":40,"k":"T"},{"r":27,"x":41,"k":"G"},{"r":27,"x":42,"k":"C"},{"r":27,"x":43,"k":"A"},{"r":27,"x":44,"k":"G"},{"r":27,"x":45,"k":"T"},{"r":27,"x":46,"k":"G"},{"r":27,"x":47,"k":"T"},{"r":27,"x":48,"k":"A"},{"r":27,"x":49,"k":"G"},
{"r":27,"x":50,"k":"C"},{"r":27,"x":51,"k":"T"},{"r":27,"x":52,"k":"G"},{"r":27,"x":53,"k":"G"},{"r":27,"x":54,"k":"T"},{"r":27,"x":55,"k":"A"},{"r":27,"x":56,"k":"T"},{"r":27,"x":57,"k":"G"},{"r":27,"x":58,"k":"C"},{"r":27,"x":59,"k":"G"},
{"r":27,"x":60,"k":"T"},{"r":27,"x":61,"k":"A"},{"r":27,"x":62,"k":"G"},{"r":27,"x":63,"k":"T"},{"r":27,"x":64,"k":"G"},{"r":27,"x":65,"k":"A"},{"r":27,"x":66,"k":"C"},{"r":27,"x":67,"k":"T"},{"r":27,"x":68,"k":"G"},{"r":27,"x":69,"k":"T"},
{"r":27,"x":70,"k":"G"},{"r":27,"x":71,"k":"A"},{"r":27,"x":72,"k":"T"},{"r":27,"x":73,"k":"G"},{"r":27,"x":74,"k":"C"},{"r":27,"x":75,"k":"T"},{"r":27,"x":76,"k":"G"},{"r":27,"x":77,"k":"G"},{"r":27,"x":78,"k":"T"},{"r":27,"x":79,"k":"A"},
{"r":27,"x":80,"k":"T"},{"r":27,"x":81,"k":"C"},{"r":27,"x":82,"k":"G"},{"r":27,"x":83,"k":"T"},{"r":27,"x":84,"k":"G"},{"r":27,"x":85,"k":"A"},{"r":27,"x":86,"k":"G"},{"r":27,"x":87,"k":"T"},{"r":27,"x":88,"k":"A"},{"r":27,"x":89,"k":"C"},
{"r":27,"x":90,"k":"G"},{"r":27,"x":91,"k":"T"},{"r":27,"x":92,"k":"T"},{"r":27,"x":93,"k":"G"},{"r":27,"x":94,"k":"A"},{"r":27,"x":95,"k":"G"},{"r":27,"x":96,"k":"C"},{"r":27,"x":97,"k":"T"},{"r":27,"x":98,"k":"G"},{"r":27,"x":99,"k":"T"},
{"r":27,"x":100,"k":"A"},{"r":27,"x":101,"k":"G"},{"r":27,"x":102,"k":"G"},{"r":27,"x":103,"k":"T"},{"r":27,"x":104,"k":"C"},{"r":27,"x":105,"k":"G"},{"r":27,"x":106,"k":"T"},{"r":27,"x":107,"k":"A"},{"r":27,"x":108,"k":"G"},{"r":27,"x":109,"k":"C"},
{"r":27,"x":110,"k":"T"},{"r":27,"x":111,"k":"G"},{"r":27,"x":112,"k":"A"},{"r":27,"x":113,"k":"G"},{"r":27,"x":114,"k":"T"},{"r":27,"x":115,"k":"G"}
],
"dendro":[
{"x":0,"x2":56.3,"y":0,"y2":0,"s":"d"},{"x":56.3,"x2":72.3,"y":0,"y2":0,"s":"t"},
{"x":0,"x2":38.3,"y":1,"y2":1,"s":"d"},{"x":38.3,"x2":46.3,"y":1,"y2":1,"s":"t"},
{"x":0,"x2":30.3,"y":2,"y2":2,"s":"d"},{"x":30.3,"x2":38.3,"y":2,"y2":2,"s":"t"},
{"x":0,"x2":22.3,"y":3,"y2":3,"s":"d"},{"x":22.3,"x2":30.3,"y":3,"y2":3,"s":"t"},
{"x":0,"x2":15,"y":4,"y2":4,"s":"d"},{"x":15,"x2":23,"y":4,"y2":4,"s":"t"},
{"x":0,"x2":15,"y":5,"y2":5,"s":"d"},{"x":15,"x2":23,"y":5,"y2":5,"s":"t"},
{"x":0,"x2":38.3,"y":6,"y2":6,"s":"d"},{"x":38.3,"x2":46.3,"y":6,"y2":6,"s":"t"},
{"x":0,"x2":22.3,"y":7,"y2":7,"s":"d"},{"x":22.3,"x2":30.3,"y":7,"y2":7,"s":"t"},
{"x":0,"x2":15.2,"y":8,"y2":8,"s":"d"},{"x":15.2,"x2":23.2,"y":8,"y2":8,"s":"t"},
{"x":0,"x2":9.7,"y":9,"y2":9,"s":"d"},{"x":9.7,"x2":17.7,"y":9,"y2":9,"s":"t"},
{"x":0,"x2":5,"y":10,"y2":10,"s":"d"},{"x":5,"x2":13,"y":10,"y2":10,"s":"t"},
{"x":0,"x2":5,"y":11,"y2":11,"s":"d"},{"x":5,"x2":13,"y":11,"y2":11,"s":"t"},
{"x":0,"x2":14.5,"y":12,"y2":12,"s":"d"},{"x":14.5,"x2":22.5,"y":12,"y2":12,"s":"t"},
{"x":0,"x2":7.7,"y":13,"y2":13,"s":"d"},{"x":7.7,"x2":15.7,"y":13,"y2":13,"s":"t"},
{"x":0,"x2":7.7,"y":14,"y2":14,"s":"d"},{"x":7.7,"x2":15.7,"y":14,"y2":14,"s":"t"},
{"x":0,"x2":14.5,"y":15,"y2":15,"s":"d"},{"x":14.5,"x2":22.5,"y":15,"y2":15,"s":"t"},
{"x":0,"x2":7,"y":16,"y2":16,"s":"d"},{"x":7,"x2":15,"y":16,"y2":16,"s":"t"},
{"x":0,"x2":1.3,"y":17,"y2":17,"s":"d"},{"x":1.3,"x2":9.3,"y":17,"y2":17,"s":"t"},
{"x":0,"x2":4.3,"y":18,"y2":18,"s":"t"},{"x":0,"x2":4.3,"y":19,"y2":19,"s":"t"},
{"x":0,"x2":54.3,"y":20,"y2":20,"s":"d"},{"x":54.3,"x2":72.3,"y":20,"y2":20,"s":"t"},
{"x":0,"x2":32,"y":21,"y2":21,"s":"d"},{"x":32,"x2":42,"y":21,"y2":21,"s":"t"},
{"x":0,"x2":32,"y":22,"y2":22,"s":"d"},{"x":32,"x2":42,"y":22,"y2":22,"s":"t"},
{"x":0,"x2":32,"y":23,"y2":23,"s":"d"},{"x":32,"x2":42,"y":23,"y2":23,"s":"t"},
{"x":0,"x2":23.7,"y":24,"y2":24,"s":"d"},{"x":23.7,"x2":31.7,"y":24,"y2":24,"s":"t"},
{"x":0,"x2":15,"y":25,"y2":25,"s":"d"},{"x":15,"x2":23,"y":25,"y2":25,"s":"t"},
{"x":0,"x2":15,"y":26,"y2":26,"s":"d"},{"x":15,"x2":23,"y":26,"y2":26,"s":"t"},
{"x":23,"x2":23,"y":4,"y2":5,"s":"t"},{"x":30.3,"x2":30.3,"y":3,"y2":4.5,"s":"t"},{"x":38.3,"x2":38.3,"y":2,"y2":3.75,"s":"t"},{"x":46.3,"x2":46.3,"y":1,"y2":2.875,"s":"t"},
{"x":13,"x2":13,"y":10,"y2":11,"s":"t"},{"x":17.7,"x2":17.7,"y":9,"y2":10.5,"s":"t"},{"x":23.2,"x2":23.2,"y":8,"y2":9.75,"s":"t"},{"x":30.3,"x2":30.3,"y":7,"y2":8.875,"s":"t"},
{"x":15.7,"x2":15.7,"y":13,"y2":14,"s":"t"},{"x":22.5,"x2":22.5,"y":12,"y2":13.5,"s":"t"},{"x":4.3,"x2":4.3,"y":18,"y2":19,"s":"t"},{"x":9.3,"x2":9.3,"y":17,"y2":18.5,"s":"t"},
{"x":15,"x2":15,"y":16,"y2":17.75,"s":"t"},{"x":22.5,"x2":22.5,"y":15,"y2":16.875,"s":"t"},{"x":30.3,"x2":30.3,"y":12.75,"y2":15.94,"s":"t"},{"x":38.3,"x2":38.3,"y":7.94,"y2":14.34,"s":"t"},
{"x":46.3,"x2":46.3,"y":6,"y2":11.14,"s":"t"},{"x":56.3,"x2":56.3,"y":1.94,"y2":8.57,"s":"t"},{"x":72.3,"x2":72.3,"y":0,"y2":5.25,"s":"t"},
{"x":23,"x2":23,"y":25,"y2":26,"s":"t"},{"x":31.7,"x2":31.7,"y":24,"y2":25.5,"s":"t"},{"x":42,"x2":42,"y":23,"y2":24.75,"s":"t"},{"x":42,"x2":42,"y":21,"y2":22,"s":"t"},
{"x":54,"x2":54,"y":21.5,"y2":23.88,"s":"t"},{"x":72.3,"x2":72.3,"y":20,"y2":22.69,"s":"t"},{"x":95.7,"x2":95.7,"y":2.63,"y2":21.34,"s":"t"},
{"x":23,"x2":30.3,"y":4.5,"y2":4.5,"s":"t"},{"x":30.3,"x2":38.3,"y":3.75,"y2":3.75,"s":"t"},{"x":38.3,"x2":46.3,"y":2.875,"y2":2.875,"s":"t"},
{"x":13,"x2":17.7,"y":10.5,"y2":10.5,"s":"t"},{"x":17.7,"x2":23.2,"y":9.75,"y2":9.75,"s":"t"},{"x":23.2,"x2":30.3,"y":8.875,"y2":8.875,"s":"t"},
{"x":15.7,"x2":22.5,"y":13.5,"y2":13.5,"s":"t"},{"x":4.3,"x2":9.3,"y":18.5,"y2":18.5,"s":"t"},{"x":9.3,"x2":15,"y":17.75,"y2":17.75,"s":"t"},{"x":15,"x2":22.5,"y":16.875,"y2":16.875,"s":"t"},
{"x":22.5,"x2":30.3,"y":12.75,"y2":12.75,"s":"t"},{"x":22.5,"x2":30.3,"y":15.94,"y2":15.94,"s":"t"},{"x":30.3,"x2":38.3,"y":7.94,"y2":7.94,"s":"t"},{"x":30.3,"x2":38.3,"y":14.34,"y2":14.34,"s":"t"},
{"x":38.3,"x2":46.3,"y":11.14,"y2":11.14,"s":"t"},{"x":46.3,"x2":56.3,"y":1.94,"y2":1.94,"s":"t"},{"x":46.3,"x2":56.3,"y":8.57,"y2":8.57,"s":"t"},{"x":56.3,"x2":72.3,"y":5.25,"y2":5.25,"s":"t"},
{"x":23,"x2":31.7,"y":25.5,"y2":25.5,"s":"t"},{"x":31.7,"x2":42,"y":24.75,"y2":24.75,"s":"t"},{"x":42,"x2":54,"y":21.5,"y2":21.5,"s":"t"},{"x":42,"x2":54,"y":23.88,"y2":23.88,"s":"t"},
{"x":54,"x2":72.3,"y":22.69,"y2":22.69,"s":"t"},{"x":72.3,"x2":95.7,"y":2.63,"y2":2.63,"s":"t"},{"x":72.3,"x2":95.7,"y":21.34,"y2":21.34,"s":"t"}
]
},
"hconcat":[
{
"data":{"name":"tracks"},
"width":220,"height":562.4,
"mark":{"type":"text","align":"right","baseline":"middle","dx":-10,"font":"DejaVu Sans","fontSize":16.5},
"encoding":{
"x":{"datum":1,"type":"quantitative","scale":{"domain":[0,1],"nice":false,"zero":false},"axis":null},
"y":{"field":"r","type":"quantitative","scale":{"domain":[-0.42079,27.42079],"nice":false,"zero":false,"reverse":true},"axis":null},
"text":{"field":"t","type":"nominal"},
"fill":{"field":"g","type":"nominal","scale":{"domain":["h","c","i","n"],"range":["#ff0000","#0a8eff","#1a80ec","#1a8cff"]},"legend":null}}
},
{
"data":{"name":"bars"},
"transform":[{"lookup":"r","from":{"data":{"name":"tracks"},"key":"r","fields":["t","g"]}}],
"facet":{"row":{"field":"r","type":"ordinal","header":null}},
"spacing":3.2,
"bounds":"flush",
"spec":{
"width":580,"height":17,
"layer":[
{"transform":[{"aggregate":[{"op":"count","as":"n"}],"groupby":["r","t","g"]}],
"mark":{"type":"rect"},
"encoding":{
"x":{"datum":-0.5,"type":"quantitative","scale":{"domain":[-0.5,115.5],"nice":false,"zero":false,"padding":0},"axis":null},
"x2":{"datum":115.5},
"y":{"datum":0,"type":"quantitative","scale":{"domain":[0,10],"nice":false,"zero":false,"padding":0},"axis":null},
"y2":{"datum":10},
"color":{"field":"g","type":"nominal","scale":{"domain":["h","c","i","n"],"range":["#ffd7d7","#d7ebff","#d9e8fc","#ffffff"]},"legend":null}}},
{"transform":[{"filter":"datum.g != 'n'"}],
"mark":{"type":"bar","orient":"vertical","width":5},
"encoding":{
"x":{"field":"x","type":"quantitative","scale":{"domain":[-0.5,115.5],"nice":false,"zero":false,"padding":0},"axis":null},
"y":{"field":"v","type":"quantitative","scale":{"domain":[0,10],"nice":false,"zero":false,"padding":0},"axis":null},
"fill":{"field":"g","type":"nominal","scale":{"domain":["h","c","i","A","C","G","T"],"range":["#ff0000","#0a8eff","#0a80f5","#d46fa1","#55c6d6","#8c86bd","#6b7fc6"]},"legend":null}}},
{"transform":[{"filter":"datum.g == 'n'"}],
"mark":{"type":"bar","orient":"vertical","width":5},
"encoding":{
"x":{"field":"x","type":"quantitative","scale":{"domain":[-0.5,115.5],"nice":false,"zero":false,"padding":0},"axis":null},
"y":{"datum":0,"type":"quantitative"},
"y2":{"datum":10},
"fill":{"field":"k","type":"nominal","scale":{"domain":["h","c","i","A","C","G","T"],"range":["#ff0000","#0a8eff","#0a80f5","#d46fa1","#55c6d6","#8c86bd","#6b7fc6"]},"legend":null}}}
]}
},
{
"data":{"name":"dendro"},
"width":96,"height":562.4,
"layer":[
{"transform":[{"filter":"datum.s == 'd'"}],
"mark":{"type":"rule","color":"#cfcfcf","strokeWidth":1,"strokeDash":[1.5,1.5]},
"encoding":{
"x":{"field":"x","type":"quantitative","scale":{"domain":[0,96],"nice":false,"zero":false},"axis":null},
"x2":{"field":"x2"},
"y":{"field":"y","type":"quantitative","scale":{"domain":[-0.42079,27.42079],"nice":false,"zero":false,"reverse":true},"axis":null},
"y2":{"field":"y2"}}},
{"transform":[{"filter":"datum.s == 't'"}],
"mark":{"type":"rule","color":"#8f8f8f","strokeWidth":1.2},
"encoding":{
"x":{"field":"x","type":"quantitative","scale":{"domain":[0,96],"nice":false,"zero":false},"axis":null},
"x2":{"field":"x2"},
"y":{"field":"y","type":"quantitative","scale":{"domain":[-0.42079,27.42079],"nice":false,"zero":false,"reverse":true},"axis":null},
"y2":{"field":"y2"}}}
]
}
],
"spacing":0,
"resolve":{"scale":{"x":"independent","y":"independent","fill":"independent","color":"independent"}}
}
